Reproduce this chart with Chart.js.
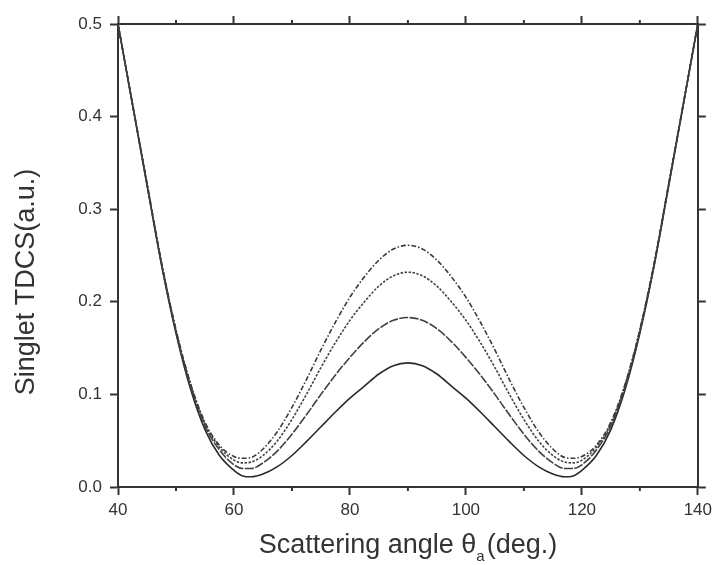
<!DOCTYPE html>
<html>
<head>
<meta charset="utf-8">
<script src="https://cdn.jsdelivr.net/npm/chart.js@4.4.0/dist/chart.umd.min.js"></script>
<style>
html,body{margin:0;padding:0;background:#fff;}
canvas{display:block;}
</style>
</head>
<body>
<canvas id="c" width="717" height="565"></canvas>
<script>
// Scattering angles (deg.)
const angles = [40, 42.5, 45, 47.5, 50, 52.5, 55, 57.5, 60, 61.5, 63, 65, 67.5, 70, 72.5, 75, 77.5, 80, 82.5, 85, 87.5, 90,
                92.5, 95, 97.5, 100, 102.5, 105, 107.5, 110, 112.5, 115, 117, 118.5, 120, 122.5, 125, 127.5, 130, 132.5, 135, 137.5, 140];
// Singlet TDCS (a.u.) for the four curves, top to bottom at 90 deg
const curve1 = [0.50, 0.414, 0.328, 0.243, 0.170, 0.112, 0.070, 0.045, 0.033, 0.031, 0.032, 0.041, 0.060, 0.086, 0.116, 0.148, 0.178, 0.205, 0.227, 0.245, 0.257, 0.261,
                0.257, 0.245, 0.227, 0.205, 0.178, 0.148, 0.116, 0.086, 0.060, 0.041, 0.032, 0.031, 0.033, 0.045, 0.070, 0.112, 0.170, 0.243, 0.328, 0.414, 0.50];
const curve2 = [0.50, 0.414, 0.328, 0.242, 0.169, 0.111, 0.068, 0.043, 0.029, 0.026, 0.027, 0.034, 0.050, 0.073, 0.100, 0.129, 0.156, 0.180, 0.200, 0.217, 0.228, 0.232,
                0.228, 0.217, 0.200, 0.180, 0.156, 0.129, 0.100, 0.073, 0.050, 0.034, 0.027, 0.026, 0.029, 0.043, 0.068, 0.111, 0.169, 0.242, 0.328, 0.414, 0.50];
const curve3 = [0.50, 0.413, 0.327, 0.241, 0.168, 0.109, 0.066, 0.040, 0.024, 0.020, 0.020, 0.026, 0.039, 0.057, 0.078, 0.100, 0.121, 0.140, 0.157, 0.171, 0.180, 0.183,
                0.180, 0.171, 0.157, 0.140, 0.121, 0.100, 0.078, 0.057, 0.039, 0.026, 0.020, 0.020, 0.024, 0.040, 0.066, 0.109, 0.168, 0.241, 0.327, 0.413, 0.50];
const curve4 = [0.50, 0.413, 0.326, 0.240, 0.166, 0.106, 0.062, 0.034, 0.018, 0.012, 0.011, 0.014, 0.022, 0.034, 0.049, 0.065, 0.081, 0.096, 0.109, 0.122, 0.131, 0.134,
                0.131, 0.122, 0.109, 0.096, 0.081, 0.065, 0.049, 0.034, 0.022, 0.014, 0.011, 0.012, 0.018, 0.034, 0.062, 0.106, 0.166, 0.240, 0.326, 0.413, 0.50];
const xMajorTicks = [40, 60, 80, 100, 120, 140];
const xMinorTicks = [50, 70, 90, 110, 130];
const yTicks = [0.0, 0.1, 0.2, 0.3, 0.4, 0.5];
const yTitle = 'Singlet TDCS(a.u.)';
const xTitleMain = 'Scattering angle \u03b8';
const xTitleSub = 'a';
const xTitleEnd = '(deg.)';

const INK = '#333333';
const FONT = 'Liberation Sans, Arial, sans-serif';

function pts(ys){ return angles.map((a,i)=>({x:a,y:ys[i]})); }

const styles = [
  {data:curve1, dash:[5,2,1.5,2], color:'#3a3a3a'},
  {data:curve2, dash:[2.5,1.5], color:'#444444'},
  {data:curve3, dash:[9,1.5], color:'#404040'},
  {data:curve4, dash:[], color:'#2a2a2a'}
];

const frameTicks = {
  id:'frameTicks',
  afterDraw(chart){
    const ctx = chart.ctx;
    const xs = chart.scales.x;
    const a = chart.chartArea;
    ctx.save();
    ctx.strokeStyle = INK;
    ctx.lineWidth = 2;
    xMinorTicks.forEach(v=>{
      const px = xs.getPixelForValue(v);
      ctx.beginPath(); ctx.moveTo(px, a.bottom); ctx.lineTo(px, a.bottom+4); ctx.stroke();
      ctx.beginPath(); ctx.moveTo(px, a.top); ctx.lineTo(px, a.top-4); ctx.stroke();
    });
    // y axis title (rotated)
    ctx.fillStyle = INK;
    ctx.font = '27px ' + FONT;
    ctx.textAlign = 'center';
    ctx.textBaseline = 'middle';
    ctx.translate(27, 282);
    ctx.rotate(-Math.PI/2);
    ctx.fillText(yTitle, 0, 0);
    ctx.restore();
    // x axis title with subscript
    ctx.save();
    ctx.fillStyle = INK;
    ctx.textBaseline = 'alphabetic';
    ctx.textAlign = 'left';
    const mainFont = '27px ' + FONT, subFont = '15px ' + FONT;
    ctx.font = mainFont; const w1 = ctx.measureText(xTitleMain).width; const w3 = ctx.measureText(xTitleEnd).width;
    ctx.font = subFont; const w2 = ctx.measureText(xTitleSub).width;
    const total = w1 + w2 + 2 + w3;
    const cx = (a.left + a.right)/2;
    let x0 = cx - total/2;
    const base = 553;
    ctx.font = mainFont; ctx.fillText(xTitleMain, x0, base);
    ctx.font = subFont; ctx.fillText(xTitleSub, x0 + w1, base + 8);
    ctx.font = mainFont; ctx.fillText(xTitleEnd, x0 + w1 + w2 + 2, base);
    ctx.restore();
  }
};

const tickFont = {family: FONT, size: 17};
const gridCommon = {drawOnChartArea:false, drawTicks:true, tickLength:8, tickColor:INK, tickWidth:2};
const borderCommon = {display:true, color:INK, width:2};

new Chart(document.getElementById('c'), {
  type:'line',
  data:{
    datasets: styles.map((s,i)=>({
      label:'curve'+(i+1),
      data: pts(s.data),
      borderColor: s.color,
      borderWidth: 1.6,
      borderDash: s.dash,
      pointRadius: 0,
      fill:false,
      cubicInterpolationMode:'monotone',
      xAxisID:'x', yAxisID:'y'
    }))
  },
  options:{
    responsive:false,
    animation:false,
    devicePixelRatio:1,
    layout:{padding:0},
    plugins:{legend:{display:false}, tooltip:{enabled:false}},
    scales:{
      x:{type:'linear', position:'bottom', min:40, max:140,
         afterBuildTicks(s){ s.ticks = xMajorTicks.map(v=>({value:v})); },
         ticks:{font:tickFont, color:INK, padding:5, maxRotation:0, autoSkip:false},
         grid:gridCommon, border:borderCommon,
         afterFit(s){ s.height = 78; }},
      xTop:{type:'linear', position:'top', min:40, max:140,
         afterBuildTicks(s){ s.ticks = xMajorTicks.map(v=>({value:v})); },
         ticks:{display:false},
         grid:gridCommon, border:borderCommon,
         afterFit(s){ s.height = 24; }},
      y:{type:'linear', position:'left', min:0, max:0.5,
         afterBuildTicks(s){ s.ticks = yTicks.map(v=>({value:v})); },
         ticks:{font:tickFont, color:INK, padding:8, callback:(v)=>Number(v).toFixed(1)},
         grid:gridCommon, border:borderCommon,
         afterFit(s){ s.width = 118; }},
      yRight:{type:'linear', position:'right', min:0, max:0.5,
         afterBuildTicks(s){ s.ticks = yTicks.map(v=>({value:v})); },
         ticks:{display:false},
         grid:gridCommon, border:borderCommon,
         afterFit(s){ s.width = 18; }}
    }
  },
  plugins:[frameTicks]
});
</script>
</body>
</html>
